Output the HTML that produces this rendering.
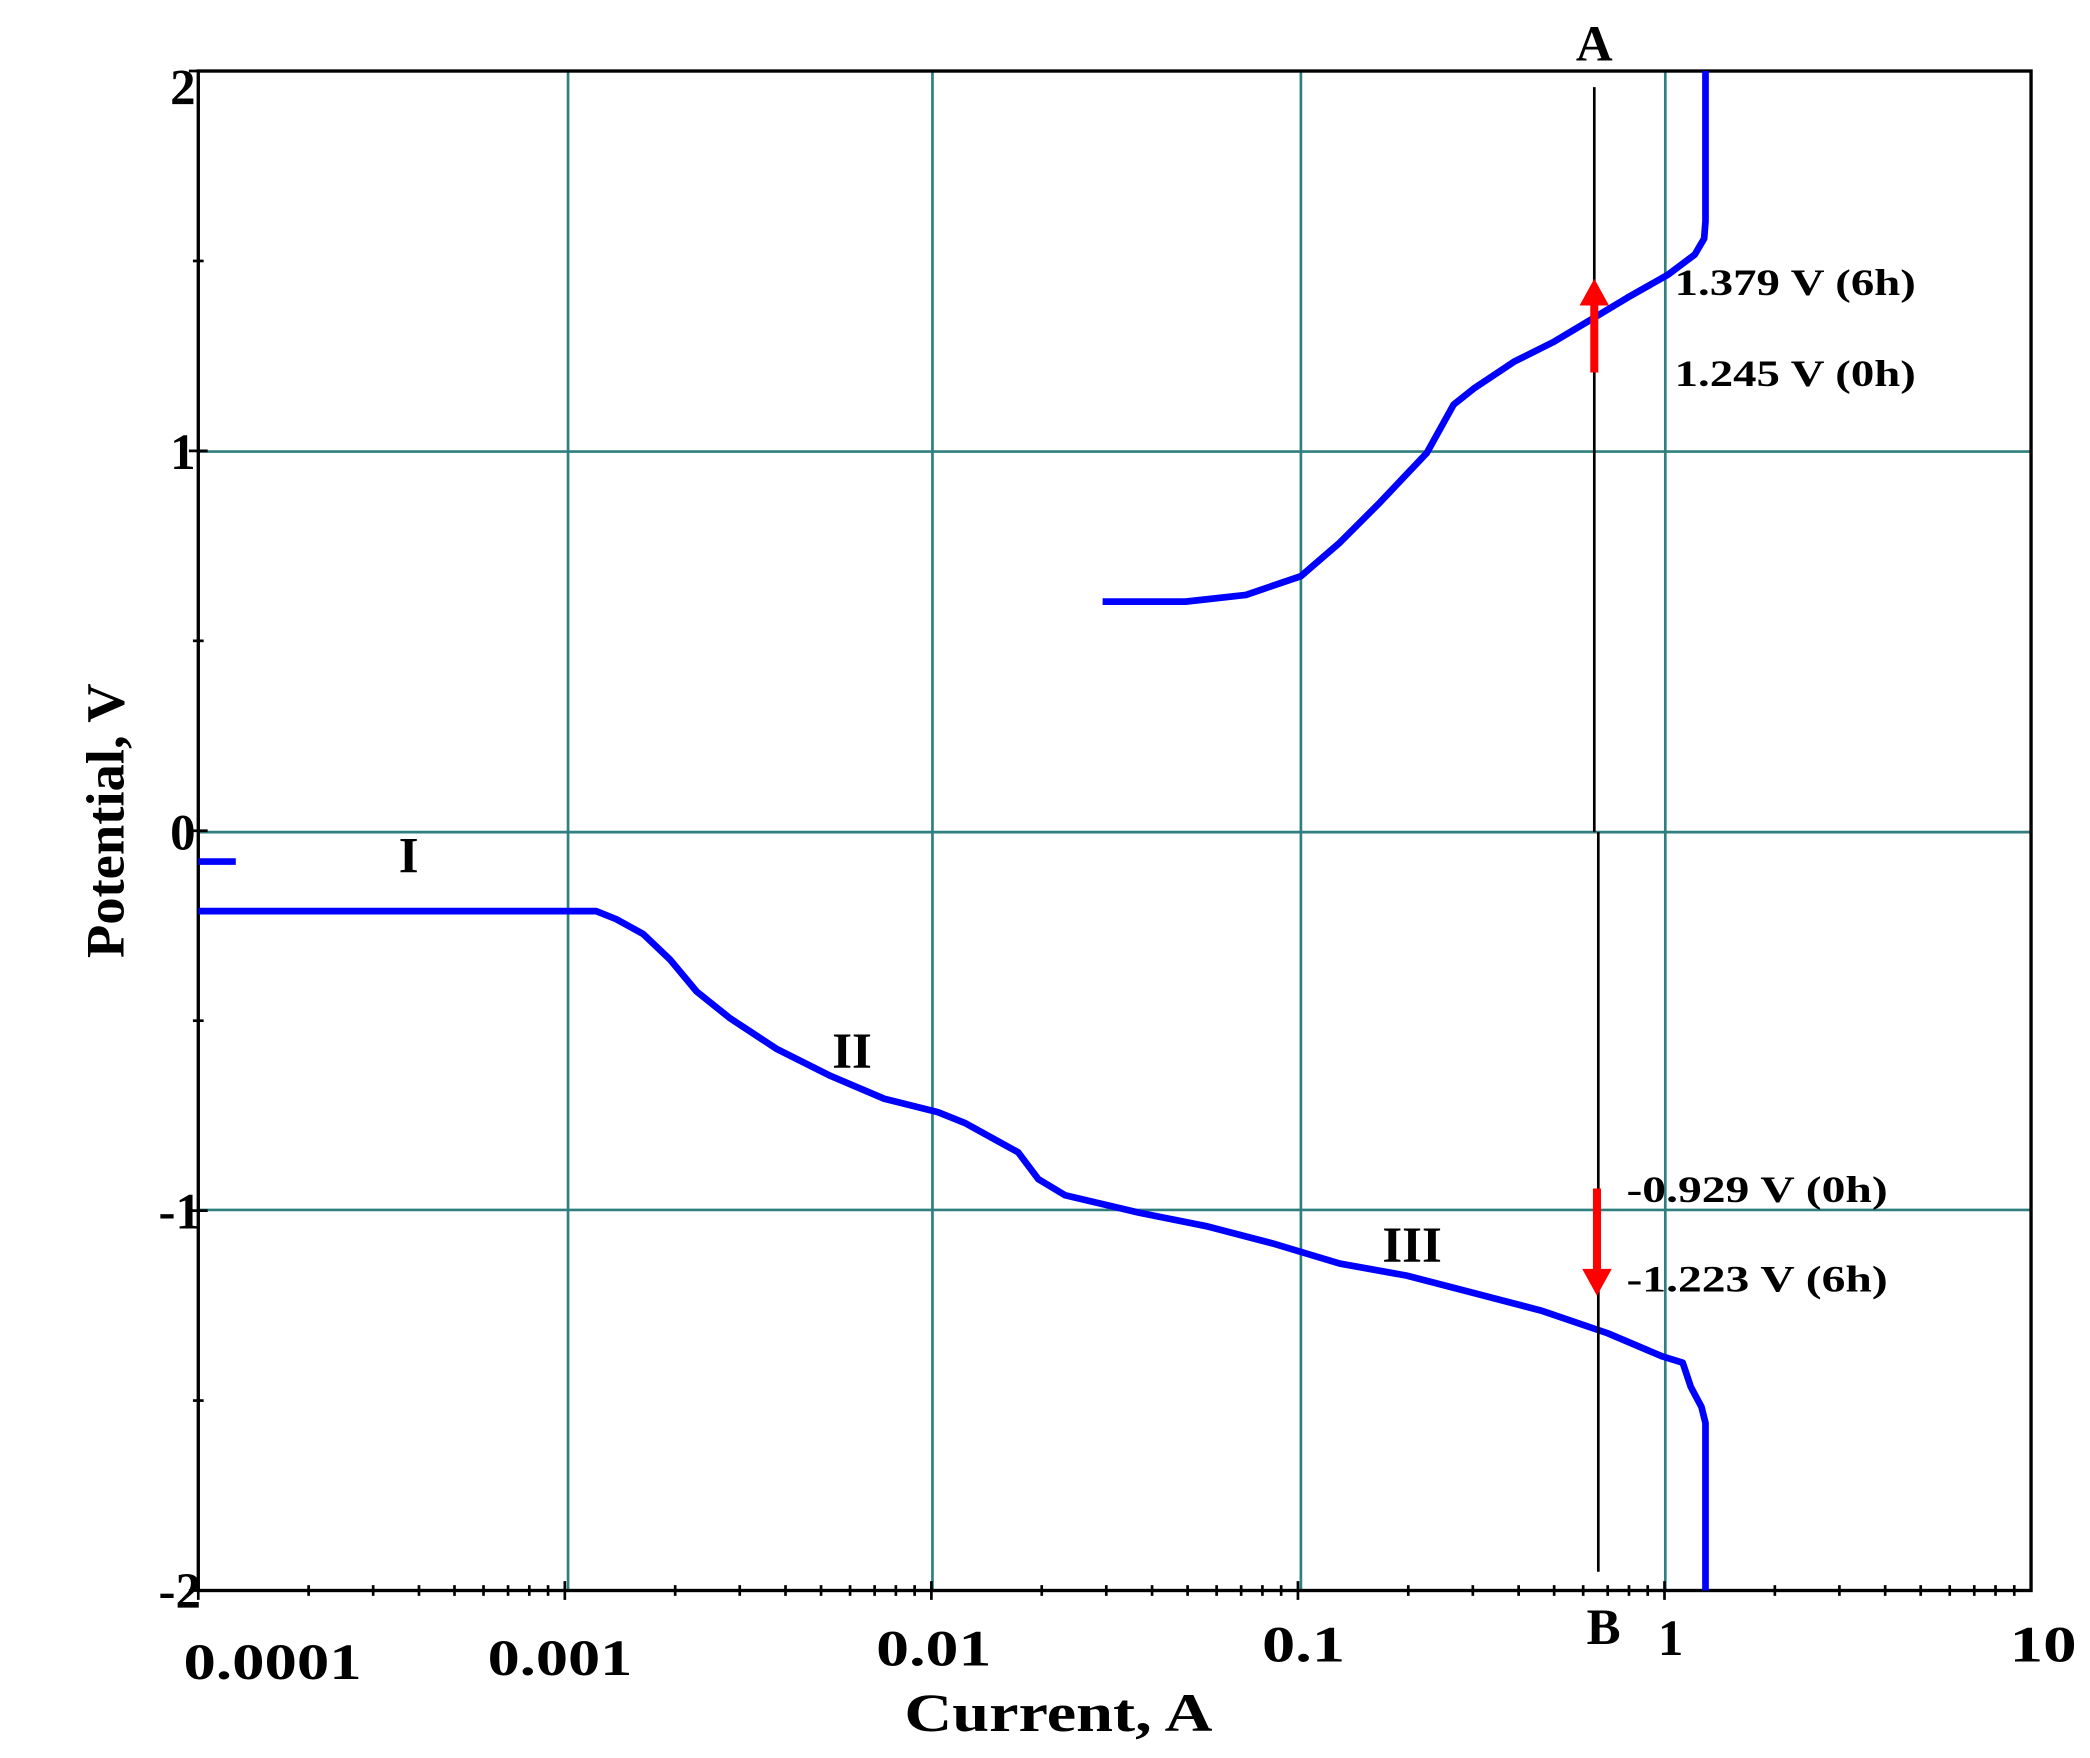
<!DOCTYPE html>
<html><head><meta charset="utf-8"><style>
html,body{margin:0;padding:0;background:#fff;}
svg{display:block;}
text{font-family:"Liberation Serif",serif;font-weight:bold;fill:#000;}
</style></head><body>
<svg id="s" width="2090" height="1758" viewBox="0 0 1560 1312" preserveAspectRatio="none" xmlns="http://www.w3.org/2000/svg">
<rect width="1560" height="1312" fill="#fff"/>
<g stroke="#2f7f7f" stroke-width="2" fill="none">
<line x1="424" y1="53" x2="424" y2="1187"/>
<line x1="696" y1="53" x2="696" y2="1187"/>
<line x1="971" y1="53" x2="971" y2="1187"/>
<line x1="1243" y1="53" x2="1243" y2="1187"/>
<line x1="148" y1="337" x2="1516" y2="337"/>
<line x1="148" y1="621" x2="1516" y2="621"/>
<line x1="148" y1="903" x2="1516" y2="903"/>
</g>
<g id="ticks" stroke="#000" stroke-width="2"></g>
<rect x="148" y="53" width="1368" height="1134" fill="none" stroke="#000" stroke-width="2.5"/>
<g stroke="#0000ff" stroke-width="5" fill="none" stroke-linejoin="round">
<polyline points="823,449 885,449 930,444 971,430 1000,405 1030,375 1065,338 1085,302 1100,290 1130,270 1160,255 1190,237 1215,222 1245,205 1265,190 1272,178 1273,165 1273,53"/>
<line x1="148" y1="643" x2="176" y2="643"/>
<polyline points="148,680 445,680 460,686 480,697 500,716 520,740 545,760 580,783 620,803 660,820 700,830 720,838 760,860 775,880 795,892 850,905 900,915 950,928 1000,943 1050,952 1100,965 1150,978 1200,995 1240,1012 1256,1017 1262,1035 1270,1050 1273,1062 1273,1187"/>
</g>
<line x1="1190" y1="65" x2="1190" y2="621" stroke="#000" stroke-width="2"/>
<line x1="1193" y1="621" x2="1193" y2="1173" stroke="#000" stroke-width="2"/>
<g fill="#ff0000" stroke="#ff0000">
<line x1="1190" y1="278" x2="1190" y2="225" stroke-width="6"/>
<polygon points="1179,228 1201,228 1190,208" stroke="none"/>
<line x1="1192" y1="887" x2="1192" y2="950" stroke-width="6"/>
<polygon points="1181,947 1203,947 1192,967" stroke="none"/>
</g>
<g font-size="28">
<text x="1250" y="220" textLength="180" lengthAdjust="spacingAndGlyphs">1.379 V (6h)</text>
<text x="1250" y="288" textLength="180" lengthAdjust="spacingAndGlyphs">1.245 V (0h)</text>
<text x="1214" y="897" textLength="195" lengthAdjust="spacingAndGlyphs">-0.929 V (0h)</text>
<text x="1214" y="964" textLength="195" lengthAdjust="spacingAndGlyphs">-1.223 V (6h)</text>
</g>
<g font-size="38">
<text x="1190" y="45" text-anchor="middle">A</text>
<text x="1197" y="1227" text-anchor="middle">B</text>
<text x="305" y="651" text-anchor="middle">I</text>
<text x="636" y="797" text-anchor="middle">II</text>
<text x="1054" y="942" text-anchor="middle">III</text>
</g>
<g font-size="38" text-anchor="end">
<text x="146" y="78">2</text>
<text x="146" y="350">1</text>
<text x="146" y="634">0</text>
<text x="150" y="917">-1</text>
<text x="150" y="1200">-2</text>
</g>
<g font-size="38">
<text x="137" y="1253" textLength="133" lengthAdjust="spacingAndGlyphs">0.0001</text>
<text x="364" y="1250" textLength="108" lengthAdjust="spacingAndGlyphs">0.001</text>
<text x="654" y="1243" textLength="86" lengthAdjust="spacingAndGlyphs">0.01</text>
<text x="942" y="1240" textLength="62" lengthAdjust="spacingAndGlyphs">0.1</text>
<text x="1247" y="1235" text-anchor="middle">1</text>
<text x="1500" y="1240" textLength="50" lengthAdjust="spacingAndGlyphs">10</text>
</g>
<text x="675" y="1292" font-size="40" textLength="230" lengthAdjust="spacingAndGlyphs">Current, A</text>
<text transform="translate(92,715) rotate(-90)" font-size="40" textLength="205" lengthAdjust="spacingAndGlyphs">Potential, V</text>
</svg>
<script>
var g=document.getElementById('ticks'),h='';
var L=148,D=273.6;
for(var d=0;d<5;d++){for(var m=1;m<10;m++){var x=L+D*(d+Math.log10(m));var len=(m==1)?7:4;
h+='<line x1="'+x+'" y1="'+(1187-len)+'" x2="'+x+'" y2="'+(1187+len)+'"/>';}}
for(var i=0;i<9;i++){var y=53+i*141.75;var len=(i%2==0)?7:4;h+='<line x1="'+(148-len)+'" y1="'+y+'" x2="'+(148+len)+'" y2="'+y+'"/>';}
g.innerHTML=h;
</script>
</body></html>
